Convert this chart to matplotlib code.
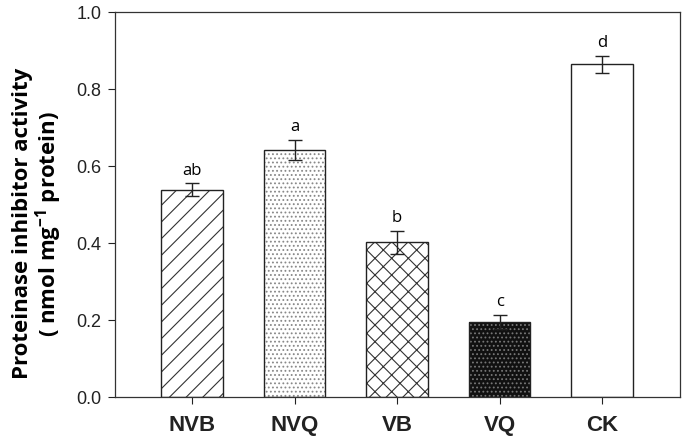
import numpy as np
import matplotlib.pyplot as plt

plt.rcParams['font.family'] = ['Liberation Sans', 'DejaVu Sans']
plt.rcParams['hatch.linewidth'] = 0.8
plt.rcParams['mathtext.fontset'] = 'custom'
plt.rcParams['mathtext.rm'] = 'Open Sans'
plt.rcParams['mathtext.bf'] = 'Open Sans:bold'

groups  = ['NVB', 'NVQ', 'VB', 'VQ', 'CK']
values  = [0.538, 0.642, 0.402, 0.195, 0.864]
errors  = [0.017, 0.026, 0.030, 0.018, 0.022]
letters = ['ab', 'a', 'b', 'c', 'd']
hatches = ['//', '....', 'xx', '....', '']
faces   = ['white', 'white', 'white', '#111111', 'white']
hatch_c = ['#333333', '#888888', '#333333', '#777777', '#333333']

fig = plt.figure(figsize=(6.85, 4.37), dpi=100)
ax = fig.add_axes([0.168, 0.0915, 0.825, 0.881])

x = np.arange(len(groups))
for i in range(len(groups)):
    # hatch colour follows edgecolor, so draw fill+hatch first, then outline
    ax.bar(x[i], values[i], width=0.6, color=faces[i], edgecolor=hatch_c[i],
           hatch=hatches[i], linewidth=0, zorder=2)
    ax.bar(x[i], values[i], width=0.6, fill=False, edgecolor='#222222',
           linewidth=1.0, zorder=3)

ax.errorbar(x, values, yerr=errors, fmt='none', ecolor='#222222',
            elinewidth=1.0, capsize=5, capthick=1.0, zorder=4)

for i in range(len(groups)):
    ax.text(x[i], values[i] + errors[i] + 0.012, letters[i],
            ha='center', va='bottom', fontsize=12, family='Open Sans')

ax.set_xlim(-0.75, 4.76)
ax.set_ylim(0, 1.0)
ax.set_yticks(np.arange(0, 1.01, 0.2))
ax.set_yticklabels([f'{v:.1f}' for v in np.arange(0, 1.01, 0.2)], fontsize=13)
ax.set_xticks(x)
ax.set_xticklabels(groups, fontsize=16, fontweight='bold')
ax.tick_params(axis='both', direction='out', length=5, width=0.8, colors='#222222')
ax.tick_params(axis='x', pad=8)
ax.tick_params(axis='y', pad=5)
for s in ax.spines.values():
    s.set_linewidth(0.9)
    s.set_color('#333333')

ax.set_ylabel('Proteinase inhibitor activity\n( nmol mg$^{\\mathbf{-1}}$ protein)',
              fontsize=16, fontweight='bold', family='Open Sans',
              linespacing=1.0)
ax.yaxis.set_label_coords(-0.09, 0.45)

plt.savefig('out.png', dpi=100)
plt.close()
